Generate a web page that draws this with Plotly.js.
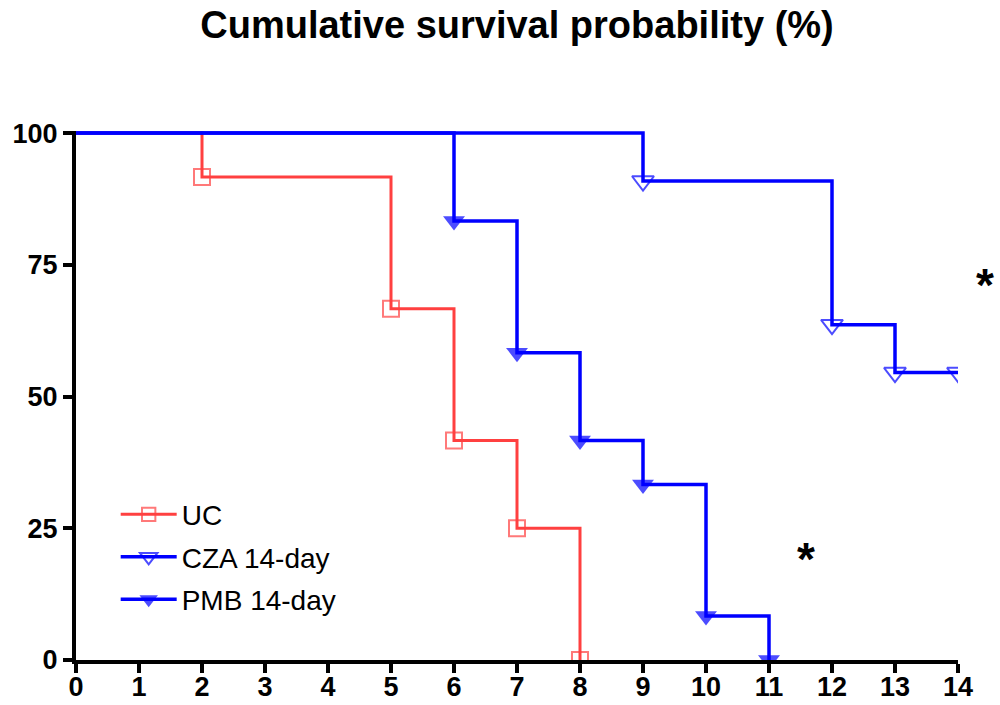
<!DOCTYPE html>
<html><head><meta charset="utf-8">
<script src="https://cdn.plot.ly/plotly-3.0.1.min.js"></script>
<style>html,body{margin:0;padding:0;background:#fff}#c{width:1000px;height:705px}</style>
</head><body><div id="c"></div>
<script>
const xTicks = [0,1,2,3,4,5,6,7,8,9,10,11,12,13,14];
const yTicks = [0,25,50,75,100];

const ucDays = [0,2,5,6,7,8];
const ucSurv = [100,91.67,66.67,41.67,25,0];
const ucMark = [0,1,1,1,1,1];

const czaDays = [0,9,12,13,14];
const czaSurv = [100,90.91,63.64,54.55,54.55];
const czaMark = [0,1,1,1,1];

const pmbDays = [0,6,7,8,9,10,11];
const pmbSurv = [100,83.33,58.33,41.67,33.33,8.33,0];
const pmbMark = [0,1,1,1,1,1,1];

const starPos = [{x:1.0306,y:0.709},{x:0.8277,y:0.191}];

const FONT = 'Liberation Sans, Arial, sans-serif';
function sizes(m, s){ return m.map(v => v ? s : 0); }

const traces = [
  {name:'UC', legendgroup:'a', x:ucDays, y:ucSurv, mode:'lines+markers', line:{shape:'hv', color:'#FF4040', width:3},
   marker:{symbol:'square-open', size:sizes(ucMark,16), color:'#FF4040', line:{width:2, color:'#FF4040'}}},
  {name:'CZA 14-day', legendgroup:'b', x:czaDays, y:czaSurv, mode:'lines+markers', line:{shape:'hv', color:'#0000FF', width:3.5},
   marker:{symbol:'triangle-down-open', size:sizes(czaMark,19), color:'#0000FF', line:{width:2, color:'#0000FF'}}},
  {name:'PMB 14-day', legendgroup:'c', x:pmbDays, y:pmbSurv, mode:'lines+markers', line:{shape:'hv', color:'#0000FF', width:3.5},
   marker:{symbol:'triangle-down', size:sizes(pmbMark,19), color:'#0000FF', line:{width:0}}}
];

const layout = {
  width:1000, height:705,
  margin:{l:76, r:42, t:131, b:45},
  paper_bgcolor:'#fff', plot_bgcolor:'#fff',
  font:{family:FONT, color:'#000'},
  title:{text:'Cumulative survival probability (%)', font:{family:FONT, size:38, weight:'bold', color:'#000'},
         x:0.5, xref:'paper', xanchor:'center', y:1-25/705, yref:'container', yanchor:'middle'},
  xaxis:{range:[0,14], tickvals:xTicks, ticktext:xTicks.map(String), showgrid:false, zeroline:false,
         showline:true, linecolor:'#000', linewidth:4, ticks:'outside', ticklen:9, tickwidth:4, tickcolor:'#000',
         ticklabelstandoff:-9,
         tickfont:{family:FONT, size:27, weight:'bold', color:'#000'}, fixedrange:true},
  yaxis:{range:[0,100.4], tickvals:yTicks, ticktext:yTicks.map(String), showgrid:false, zeroline:false,
         showline:true, linecolor:'#000', linewidth:4, ticks:'outside', ticklen:9, tickwidth:4, tickcolor:'#000',
         tickfont:{family:FONT, size:27, weight:'bold', color:'#000'}, fixedrange:true},
  showlegend:true,
  legend:{x:0.045, y:0.322, xanchor:'left', yanchor:'top', bgcolor:'rgba(0,0,0,0)', traceorder:'grouped',
          font:{family:FONT, size:28, color:'#000'}, tracegroupgap:3, itemwidth:56},
  annotations: starPos.map(p => ({x:p.x, y:p.y, xref:'paper', yref:'paper', xanchor:'center', yanchor:'middle',
          text:'*', showarrow:false, font:{family:FONT, size:46, weight:'bold', color:'#000'}}))
};

Plotly.newPlot('c', traces, layout, {displayModeBar:false, staticPlot:true});
</script></body></html>
